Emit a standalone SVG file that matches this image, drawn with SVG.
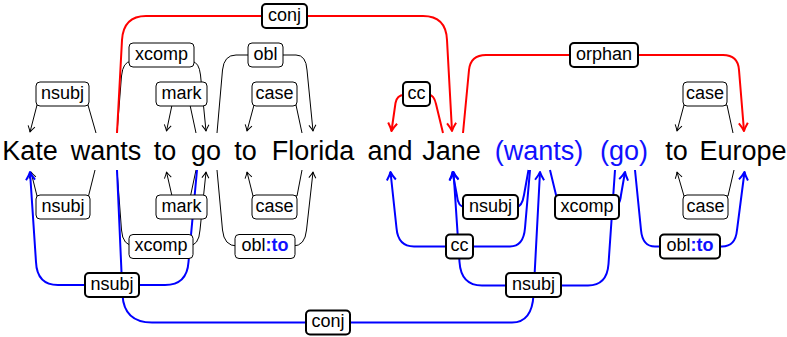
<svg xmlns="http://www.w3.org/2000/svg" width="787" height="337" viewBox="0 0 787 337">
<style>
.w{font-family:"Liberation Sans",Arial,sans-serif;font-size:27px;text-anchor:middle;fill:#000}
.wb{fill:#1010ff}
.lb{font-family:"Liberation Sans",Arial,sans-serif;font-size:18px;text-anchor:middle;fill:#000}
.to{fill:#1010ff;font-weight:bold}
.bt{fill:#fff;stroke:#000;stroke-width:1}
.bk{fill:#fff;stroke:#000;stroke-width:2}
.ck{fill:none;stroke:#000;stroke-width:1;marker-end:url(#ak)}
.cr{fill:none;stroke:#f00;stroke-width:2;marker-end:url(#ar)}
.cb{fill:none;stroke:#00f;stroke-width:2;marker-end:url(#ab)}
</style>
<defs>
<marker id="ak" markerUnits="userSpaceOnUse" viewBox="-10 -6 12 12" markerWidth="12" markerHeight="12" refX="0" refY="0" orient="auto" overflow="visible">
<path d="M-6,-3.5 Q-2,-0.8 0,0 Q-2,0.8 -6,3.5" fill="none" stroke="#000" stroke-width="1" stroke-linejoin="round"/>
</marker>
<marker id="ar" markerUnits="userSpaceOnUse" viewBox="-12 -7 14 14" markerWidth="14" markerHeight="14" refX="0" refY="0" orient="auto" overflow="visible">
<path d="M-8,-4.5 Q-3,-1 0,0 Q-3,1 -8,4.5" fill="none" stroke="#f00" stroke-width="2" stroke-linejoin="round"/>
</marker>
<marker id="ab" markerUnits="userSpaceOnUse" viewBox="-12 -7 14 14" markerWidth="14" markerHeight="14" refX="0" refY="0" orient="auto" overflow="visible">
<path d="M-8,-4.5 Q-3,-1 0,0 Q-3,1 -8,4.5" fill="none" stroke="#00f" stroke-width="2" stroke-linejoin="round"/>
</marker>
</defs>
<rect width="787" height="337" fill="#fff"/>
<g id="connectors">
<path class="ck" d="M96,133 L88,105 L37,105 L30,132"/>
<path class="ck" d="M117,133 L121.5,76 Q123,61.5 131,61.5 L192,61.5 Q199,62 200.5,75 L206,131"/>
<path class="ck" d="M196,133 L190,105 L172,105 L166.5,131"/>
<path class="ck" d="M217,133 L222.5,70 Q224,55 236,55 L296,55 Q306,55 307,70 L313,131"/>
<path class="ck" d="M302,133 L296,105 L254,105 L247,131"/>
<path class="cr" d="M117,133 L122,40 Q123.5,16 146,16 L423,16 Q446,16 447,40 L452,131"/>
<path class="cr" d="M443,133 L436,104 Q434,95 429,95 L404,95 Q397,95 395.5,103 L391.5,131"/>
<path class="cr" d="M463,133 L469,70 Q470.5,55 486,55 L723,55 Q738,55 739,70 L744,131"/>
<path class="ck" d="M733,133 L727,105 L684,105 L677,131"/>
<path class="ck" d="M95,170 L88.5,196 L37,196 L31,172"/>
<path class="ck" d="M196,170 L190.5,196 L172,196 L166.5,172"/>
<path class="ck" d="M117,170 L121.5,230 Q122.5,246 135,246 L188,246 Q199,246 200,230 L206,172"/>
<path class="ck" d="M302,170 L297,196 L253,196 L247,172"/>
<path class="ck" d="M217,170 L222.5,230 Q224,246 237,246 L293,246 Q305,246 306.5,230 L313,172"/>
<path class="cb" d="M197,170 L188.5,262 Q187,285 165,285 L58,285 Q37,285 36,262 L30,172"/>
<path class="cb" d="M117,170 L122.5,295 Q124,322.5 152,322.5 L512,322.5 Q532,322.5 533.5,295 L540,172"/>
<path class="cb" d="M530,170 L525,228 Q523.5,246.5 510,246.5 L414,246.5 Q398,246.5 396.5,228 L390.5,172"/>
<path class="cb" d="M528.5,170 L524,195 Q522,207 516,207 L465,207 Q458,207 457,196 L452.5,172"/>
<path class="cb" d="M615,170 L608.5,264 Q607,285.5 588,285.5 L482,285.5 Q461,285.5 459.5,262 L453.5,172"/>
<path class="cb" d="M550,170 L556.5,197 L612,207 Q620,207 621,195 L625,172"/>
<path class="cb" d="M635,170 L641,230 Q642.5,246.5 655,246.5 L722,246.5 Q735.5,246.5 737,230 L744.5,172"/>
<path class="ck" d="M734,170 L728,196 L684,196 L677,172"/>
</g>
<g id="labels">
<g id="l-nsubj-top"><rect class="bt" x="36" y="82" width="53" height="24" rx="4"/><text class="lb" x="62.5" y="98.5">nsubj</text></g>
<g id="l-xcomp-top"><rect class="bt" x="129" y="43" width="65" height="24" rx="4"/><text class="lb" x="161.5" y="59.5">xcomp</text></g>
<g id="l-mark-top"><rect class="bt" x="156" y="82" width="51" height="24" rx="4"/><text class="lb" x="181.5" y="98.5">mark</text></g>
<g id="l-obl-top"><rect class="bt" x="248" y="43" width="35" height="24" rx="4"/><text class="lb" x="265.5" y="59.5">obl</text></g>
<g id="l-case-top1"><rect class="bt" x="252" y="82" width="45" height="24" rx="4"/><text class="lb" x="274.5" y="98.5">case</text></g>
<g id="l-conj-top"><rect class="bk" x="262" y="4" width="45" height="24" rx="4"/><text class="lb" x="284.5" y="20.5">conj</text></g>
<g id="l-cc-top"><rect class="bk" x="403" y="82" width="27" height="24" rx="4"/><text class="lb" x="416.5" y="98.5">cc</text></g>
<g id="l-orphan"><rect class="bk" x="570" y="43" width="68" height="24" rx="4"/><text class="lb" x="604" y="59.5">orphan</text></g>
<g id="l-case-top2"><rect class="bt" x="683" y="82" width="44" height="24" rx="4"/><text class="lb" x="705" y="98.5">case</text></g>
<g id="l-nsubj-bot1"><rect class="bt" x="36" y="195" width="54" height="24" rx="4"/><text class="lb" x="63" y="211.5">nsubj</text></g>
<g id="l-mark-bot"><rect class="bt" x="156" y="195" width="51" height="24" rx="4"/><text class="lb" x="181.5" y="211.5">mark</text></g>
<g id="l-xcomp-bot1"><rect class="bt" x="129" y="234.5" width="64" height="24" rx="4"/><text class="lb" x="161" y="251">xcomp</text></g>
<g id="l-case-bot1"><rect class="bt" x="252" y="195" width="45" height="24" rx="4"/><text class="lb" x="274.5" y="211.5">case</text></g>
<g id="l-oblto-bot1"><rect class="bt" x="235" y="234.5" width="60" height="24" rx="4"/><text class="lb" x="265" y="251">obl<tspan class="to">:to</tspan></text></g>
<g id="l-nsubj-bot2"><rect class="bk" x="85" y="273" width="54" height="24" rx="4"/><text class="lb" x="112" y="289.5">nsubj</text></g>
<g id="l-conj-bot"><rect class="bk" x="306" y="310.5" width="44" height="24" rx="4"/><text class="lb" x="328" y="327">conj</text></g>
<g id="l-cc-bot"><rect class="bk" x="446" y="234.5" width="27" height="24" rx="4"/><text class="lb" x="459.5" y="251">cc</text></g>
<g id="l-nsubj-bot3"><rect class="bk" x="463" y="195" width="55" height="24" rx="4"/><text class="lb" x="490.5" y="211.5">nsubj</text></g>
<g id="l-xcomp-bot2"><rect class="bk" x="555" y="195" width="64" height="24" rx="4"/><text class="lb" x="587" y="211.5">xcomp</text></g>
<g id="l-nsubj-bot4"><rect class="bk" x="506" y="273" width="55" height="24" rx="4"/><text class="lb" x="533.5" y="289.5">nsubj</text></g>
<g id="l-oblto-bot2"><rect class="bk" x="660" y="234.5" width="60" height="24" rx="4"/><text class="lb" x="690" y="251">obl<tspan class="to">:to</tspan></text></g>
<g id="l-case-bot2"><rect class="bt" x="683" y="195" width="45" height="24" rx="4"/><text class="lb" x="705.5" y="211.5">case</text></g>
</g>
<g id="words">
<g id="w1"><text class="w" x="30" y="160">Kate</text></g>
<g id="w2"><text class="w" x="106" y="160">wants</text></g>
<g id="w3"><text class="w" x="165" y="160">to</text></g>
<g id="w4"><text class="w" x="206" y="160">go</text></g>
<g id="w5"><text class="w" x="245.5" y="160">to</text></g>
<g id="w6"><text class="w" x="313" y="160">Florida</text></g>
<g id="w7"><text class="w" x="390" y="160">and</text></g>
<g id="w8"><text class="w" x="451.5" y="160">Jane</text></g>
<g id="w9"><text class="w wb" x="539" y="160">(wants)</text></g>
<g id="w10"><text class="w wb" x="624" y="160">(go)</text></g>
<g id="w11"><text class="w" x="676.5" y="160">to</text></g>
<g id="w12"><text class="w" x="743" y="160">Europe</text></g>
</g>
</svg>
